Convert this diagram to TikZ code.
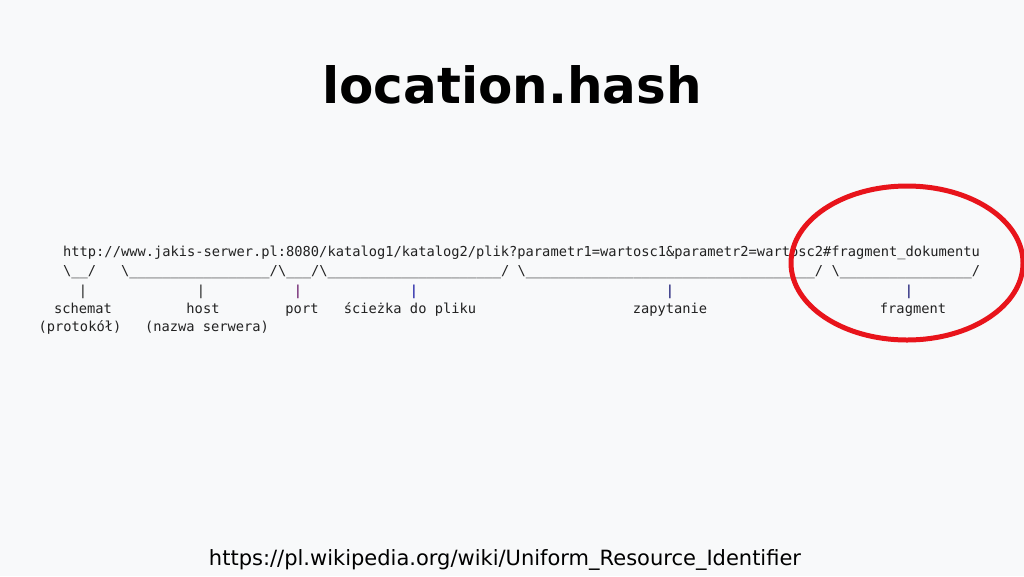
\documentclass[tikz,border=0pt]{standalone}
\usepackage{fontspec}
\setmainfont{DejaVu Sans}
\newfontfamily\monof{DejaVu Sans Mono}
\definecolor{bg}{HTML}{F8F9FA}
\definecolor{txt}{HTML}{222222}
\definecolor{ring}{HTML}{E8141B}
\newcommand{\us}[1]{\foreach \k in {1,...,#1}{\_}}
\begin{document}
\begin{tikzpicture}[x=1pt,y=-1pt,
  mono/.style={font=\monof\fontsize{13.72}{16}\selectfont, text=txt, inner sep=0pt, anchor=base west},
  lab/.style={font=\monof\fontsize{13.72}{16}\selectfont, text=txt, inner sep=0pt, anchor=base},
  bar/.style={font=\monof\fontsize{13.72}{16}\selectfont, inner sep=0pt, anchor=base}]
\fill[bg] (0,0) rectangle (1024,576);
\useasboundingbox (0,0) rectangle (1024,576);
\node[font=\bfseries\fontsize{50}{56}\selectfont, text=black, anchor=base] (title) at (512,103) {location.hash};
\def\cw{8.262}
\node[mono] (url) at (63,256) {http://www.jakis-serwer.pl:8080/katalog1/katalog2/plik?parametr1=wartosc1\&parametr2=wartosc2\#fragment\_dokumentu};
\node[mono] (b1) at (63,275) {\textbackslash\_\_/};
\node[mono] (b2) at (63+7*\cw,275) {\textbackslash\us{17}/};
\node[mono] (b3) at (63+26*\cw,275) {\textbackslash\_\_\_/};
\node[mono] (b4) at (63+31*\cw,275) {\textbackslash\us{21}/};
\node[mono] (b5) at (63+55*\cw,275) {\textbackslash\us{35}/};
\node[mono] (b6) at (63+93*\cw,275) {\textbackslash\us{16}/};
\node[bar,text=txt] (p1) at (83,295) {|};
\node[bar,text=txt] (p2) at (201,295) {|};
\node[bar,text=violet!70!black] (p3) at (298,295) {|};
\node[bar,text=blue!60!black] (p4) at (414,295) {|};
\node[bar,text=blue!40!black] (p5) at (670,295) {|};
\node[bar,text=blue!40!black] (p6) at (909,295) {|};
\node[lab] (l1) at (83,313) {schemat};
\node[lab] (l1b) at (80,331) {(protokół)};
\node[lab] (l2) at (203,313) {host};
\node[lab] (l2b) at (207,331) {(nazwa serwera)};
\node[lab] (l3) at (302,313) {port};
\node[lab] (l4) at (410,313) {ścieżka do pliku};
\node[lab] (l5) at (670,313) {zapytanie};
\node[lab] (l6) at (913,313) {fragment};
\draw[ring, line width=5pt] (907,263) ellipse [x radius=116, y radius=77];
\node[font=\fontsize{21}{24}\selectfont, text=black, anchor=base] (src) at (505,565) {https://pl.wikipedia.org/wiki/Uniform\_Resource\_Identifier};
\end{tikzpicture}
\end{document}
